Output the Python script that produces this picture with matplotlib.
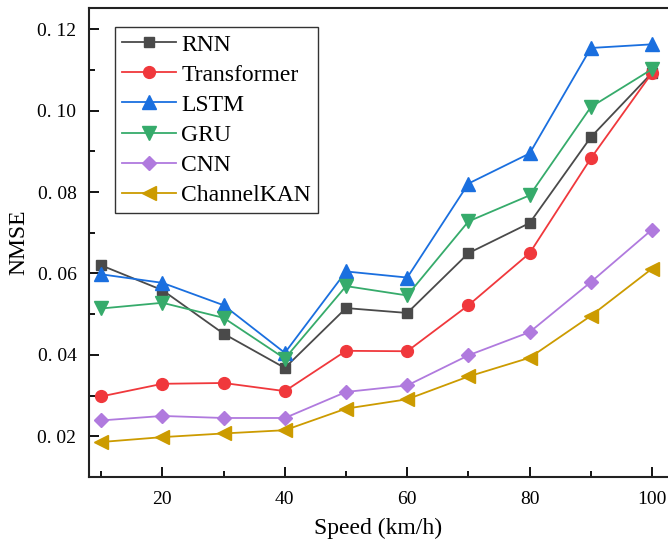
import numpy as np
import matplotlib
matplotlib.use('Agg')
import matplotlib.pyplot as plt
from matplotlib.ticker import MultipleLocator, FixedLocator

plt.rcParams['font.family'] = ['Liberation Serif', 'DejaVu Serif']

speed = [10, 20, 30, 40, 50, 60, 70, 80, 90, 100]
rnn = [0.0620, 0.0559, 0.0452, 0.0368, 0.0515, 0.0503, 0.0650, 0.0724, 0.0935, 0.1093]
transformer = [0.0298, 0.0329, 0.0331, 0.0311, 0.0410, 0.0409, 0.0522, 0.0650, 0.0883, 0.1093]
lstm = [0.0598, 0.0577, 0.0522, 0.0405, 0.0605, 0.0590, 0.0821, 0.0895, 0.1154, 0.1163]
gru = [0.0514, 0.0528, 0.0491, 0.0391, 0.0569, 0.0546, 0.0728, 0.0792, 0.1009, 0.1102]
cnn = [0.0239, 0.0250, 0.0245, 0.0245, 0.0309, 0.0325, 0.0399, 0.0456, 0.0579, 0.0708]
channelkan = [0.0186, 0.0198, 0.0207, 0.0215, 0.0268, 0.0291, 0.0347, 0.0393, 0.0496, 0.0612]

names = ['RNN', 'Transformer', 'LSTM', 'GRU', 'CNN', 'ChannelKAN']
colors = ['#4a4a4a', '#f0383c', '#1a6fdf', '#36ab6b', '#b07ade', '#cc9b00']
markers = ['s', 'o', '^', 'v', 'D', '<']
msizes = [7.5, 8.5, 9.5, 9.5, 7.5, 9.5]
yticks = [0.02, 0.04, 0.06, 0.08, 0.10, 0.12]
ytick_labels = ['0. 02', '0. 04', '0. 06', '0. 08', '0. 10', '0. 12']

fig = plt.figure(figsize=(6.68, 5.39), dpi=100)
ax = fig.add_axes([0.1332, 0.115, 0.8668, 0.870])

series = [rnn, transformer, lstm, gru, cnn, channelkan]
for vals, name, c, m, ms in zip(series, names, colors, markers, msizes):
    ax.plot(speed, vals, color=c, marker=m, markersize=ms, linewidth=1.3, label=name)

ax.set_xlim(8, 102.6)
ax.set_ylim(0.01, 0.1252)
ax.xaxis.set_major_locator(FixedLocator([20, 40, 60, 80, 100]))
ax.xaxis.set_minor_locator(MultipleLocator(10))
ax.set_yticks(yticks)
ax.set_yticklabels(ytick_labels)
ax.yaxis.set_minor_locator(MultipleLocator(0.01))
ax.tick_params(which='major', direction='in', length=7, width=1.3, labelsize=14)
ax.tick_params(which='minor', direction='in', length=4.5, width=1.3)
ax.tick_params(axis='y', pad=9)
ax.tick_params(axis='x', pad=10)
for s in ['left', 'bottom', 'top']:
    ax.spines[s].set_linewidth(1.5)
    ax.spines[s].set_color('#222222')
ax.spines['right'].set_visible(False)

ax.set_xlabel('Speed (km/h)', fontsize=17, labelpad=7)
ax.set_ylabel('NMSE', fontsize=17, labelpad=6)

leg = ax.legend(loc='upper left', bbox_to_anchor=(0.045, 0.9595), borderaxespad=0,
                fontsize=17, fancybox=False, edgecolor='#333333', framealpha=1,
                labelspacing=0.36, handlelength=2.3, handletextpad=0.2,
                borderpad=0.3)
leg.get_frame().set_linewidth(1.0)

fig.savefig('out.png', dpi=100)
